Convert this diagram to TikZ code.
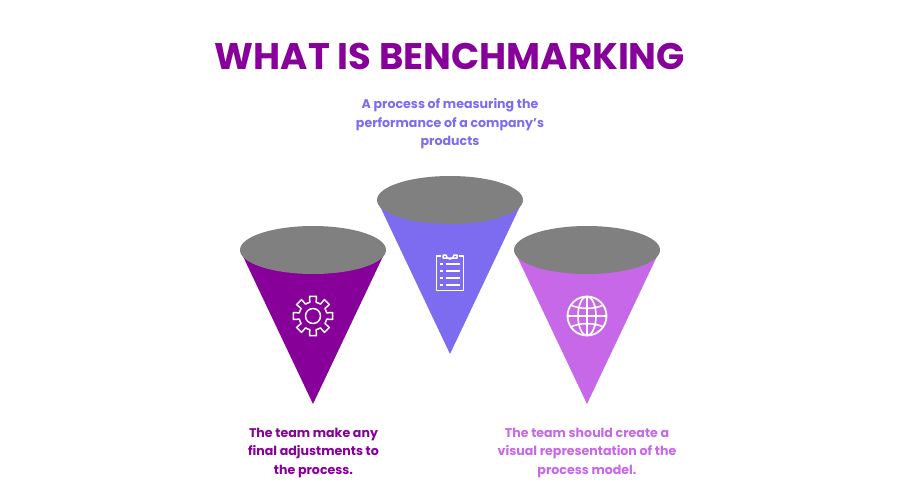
\documentclass[tikz,border=0pt]{standalone}
\usepackage{fontspec}
\setmainfont{Poppins}[BoldFont={* Bold}]
\definecolor{darkpurple}{HTML}{87009A}
\definecolor{midviolet}{HTML}{7D6CF0}
\definecolor{lightpurple}{HTML}{C768E8}
\definecolor{lidgray}{HTML}{808080}
\tikzset{
    titletext/.style={font=\fontsize{37}{40}\selectfont\bfseries,text=darkpurple},
    captext/.style={font=\fontsize{12.6}{18.6}\selectfont\bfseries,align=center},
    iconline/.style={draw=white,line width=1.5pt,line join=round,fill=none}
}
% one cone: centre of the lid, colour
\newcommand{\conepic}[3]{
    \fill[#3] (#1-73,#2) -- (#1,#2+154) -- (#1+73,#2) -- cycle;
    \fill[lidgray] (#1,#2) ellipse (73 and 24);
}
\begin{document}
\begin{tikzpicture}[x=1pt,y=-1pt]
    \useasboundingbox (0,0) rectangle (900,500);
    \fill[white] (0,0) rectangle (900,500);
    \node[titletext] (title) at (450,56) {WHAT IS BENCHMARKING};
    \node[captext,text=midviolet] (captop) at (450,124)
    {A process of measuring the\\performance of a company's\\products};
    \node[captext,text=darkpurple] (capleft) at (313.5,453)
    {The team make any\\final adjustments to\\the process.};
    \node[captext,text=lightpurple] (capright) at (587,453)
    {The team should create a\\visual representation of the\\process model.};
    \conepic{313}{250}{darkpurple}
    \conepic{587}{250}{lightpurple}
    \conepic{450}{200}{midviolet}
    % clipboard
    \draw[iconline] (441,256) -- (436.5,256) -- (436.5,290.5) -- (463.5,290.5) -- (463.5,256) -- (459,256);
    \draw[iconline] (443,258) -- (443,255) -- (446,255) arc (180:0:4) -- (457,255) -- (457,258) -- cycle;
    \foreach \y in {264,271,278,285} {
        \draw[iconline,line width=1.2pt] (440,\y) -- (442.5,\y);
        \draw[iconline,line width=1.2pt] (446,\y) -- (460,\y);
    }
    % gear
    \draw[iconline] (313,316) circle (7.5);
    \draw[iconline] (0:13.5)++(313,316) \foreach \a in {0,45,...,315} {
        -- ++(0,0)
    };
    \draw[iconline,shift={(313,316)}]
    \foreach \a in {0,45,...,315} {
        (\a-22.5+4:14) -- (\a-13:14) -- (\a-10:20) -- (\a+10:20) -- (\a+13:14) -- (\a+22.5-4:14)
        (\a+18.5:14) -- (\a+26.5:14)
    };
    % globe
    \draw[iconline,line width=1.8pt] (587,316) circle (19.5);
    \draw[iconline,line width=1.6pt] (587,316) ellipse (9 and 19.5);
    \draw[iconline,line width=1.6pt] (587,296.5) -- (587,335.5);
    \draw[iconline,line width=1.6pt] (567.5,316) -- (606.5,316);
    \draw[iconline,line width=1.6pt] (570.5,305) .. controls (580,309.5) and (594,309.5) .. (603.5,305);
    \draw[iconline,line width=1.6pt] (570.5,327) .. controls (580,322.5) and (594,322.5) .. (603.5,327);
\end{tikzpicture}
\end{document}
